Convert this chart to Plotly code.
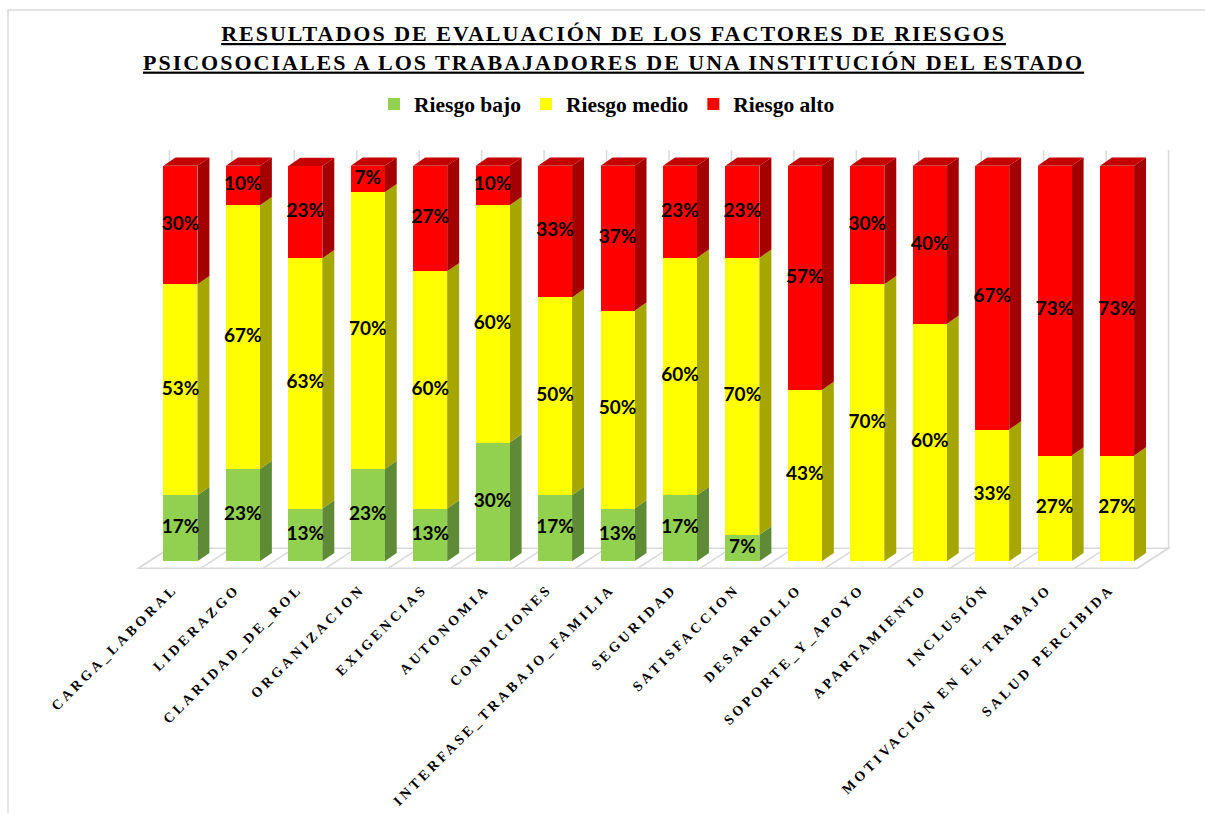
import plotly.graph_objects as go

# ---------------- data ----------------
categorias = ["CARGA_LABORAL", "LIDERAZGO", "CLARIDAD_DE_ROL", "ORGANIZACION",
              "EXIGENCIAS", "AUTONOMIA", "CONDICIONES", "INTERFASE_TRABAJO_FAMILIA",
              "SEGURIDAD", "SATISFACCION", "DESARROLLO", "SOPORTE_Y_APOYO",
              "APARTAMIENTO", "INCLUSIÓN", "MOTIVACIÓN EN EL TRABAJO", "SALUD PERCIBIDA"]
riesgo_bajo = [16.7, 23.3, 13.3, 23.3, 13.3, 30.0, 16.7, 13.3, 16.7, 6.7, 0, 0, 0, 0, 0, 0]
riesgo_medio = [53.3, 66.7, 63.3, 70.0, 60.0, 60.0, 50.0, 50.0, 60.0, 70.0, 43.3, 70.0, 60.0, 33.3, 26.7, 26.7]
riesgo_alto = [30.0, 10.0, 23.3, 6.7, 26.7, 10.0, 33.3, 36.7, 23.3, 23.3, 56.7, 30.0, 40.0, 66.7, 73.3, 73.3]
series_names = ["Riesgo bajo", "Riesgo medio", "Riesgo alto"]

titulo_1 = "RESULTADOS DE EVALUACIÓN DE LOS FACTORES DE RIESGOS"
titulo_2 = "PSICOSOCIALES A LOS TRABAJADORES DE UNA INSTITUCIÓN DEL ESTADO"

# ---------------- style ----------------
W, H = 1205, 813
ML, MR, MT, MB = 118, 13, 142, 236
XR = [-1, 16.2]
YR = [-4, 106]
BAR_W = 0.544
DX, DY = 0.192, 2.1          # 3D depth offset (data units)
front = ["#92D050", "#FFFF00", "#FF0000"]
side = ["#5F8A36", "#A6A600", "#A50000"]
top = ["#7AB03F", "#D4D400", "#C40000"]
GRID = "#D9D9D9"
SERIF = "Liberation Serif"

def px_to_paper_x(px):
    return (px - ML) / (W - ML - MR)

def px_to_paper_y(py):
    return (H - MB - py) / (H - MT - MB)

series = [riesgo_bajo, riesgo_medio, riesgo_alto]
n = len(categorias)
xs = list(range(n))

fig = go.Figure()
for vals, name, col in zip(series, series_names, front):
    fig.add_trace(go.Bar(x=xs, y=vals, name=name, width=BAR_W,
                         marker=dict(color=col, line=dict(width=0)),
                         hoverinfo="skip"))

# data labels
lx, ly, lt = [], [], []
for i in range(n):
    base = 0
    for vals in series:
        v = vals[i]
        if v > 0:
            lx.append(i)
            ly.append(base + v / 2)
            lt.append(f"{round(v)}%")
        base += v
fig.add_trace(go.Scatter(x=lx, y=ly, text=lt, mode="text", showlegend=False,
                         textposition="middle center", hoverinfo="skip",
                         textfont=dict(family="Lato", size=19, color="black", weight=700)))

shapes = []
# outer frame (only left and top edges fall inside the picture)
shapes.append(dict(type="rect", xref="paper", yref="paper",
                   x0=px_to_paper_x(8), x1=px_to_paper_x(1260),
                   y0=px_to_paper_y(870), y1=px_to_paper_y(10),
                   line=dict(color=GRID, width=1.5), fillcolor="rgba(0,0,0,0)", layer="below"))

# floor
FY0, FY1 = -1.77, 3.29
FX0, FX1 = -0.672, -0.176
shapes.append(dict(type="path", xref="x", yref="y", layer="below",
                   path=f"M{FX0},{FY0} L{FX0 + n},{FY0} L{FX1 + n},{FY1} L{FX1},{FY1} Z",
                   line=dict(color=GRID, width=1.5), fillcolor="white"))
for k in range(n + 1):
    shapes.append(dict(type="line", xref="x", yref="y", layer="below",
                       x0=FX0 + k, y0=FY0, x1=FX1 + k, y1=FY1,
                       line=dict(color=GRID, width=1.5)))
# back-wall gridlines
for k in range(n + 1):
    shapes.append(dict(type="line", xref="x", yref="y", layer="below",
                       x0=FX1 + k, y0=FY1, x1=FX1 + k, y1=103.9,
                       line=dict(color=GRID, width=1.5)))

# 3D side and top faces
for i in range(n):
    xr = i + BAR_W / 2
    xl = i - BAR_W / 2
    base = 0
    last = None
    for s, vals in enumerate(series):
        v = vals[i]
        if v <= 0:
            continue
        y0, y1 = base, base + v
        shapes.append(dict(type="path", xref="x", yref="y", layer="below",
                           path=f"M{xr},{y0} L{xr + DX},{y0 + DY} L{xr + DX},{y1 + DY} L{xr},{y1} Z",
                           fillcolor=side[s], line=dict(width=0)))
        base = y1
        last = s
    shapes.append(dict(type="path", xref="x", yref="y", layer="below",
                       path=f"M{xl},{base} L{xr},{base} L{xr + DX},{base + DY} L{xl + DX},{base + DY} Z",
                       fillcolor=top[last], line=dict(width=0)))

annotations = [
    dict(text=f'<span style="letter-spacing:2px">{titulo_1}</span><br>'
              f'<span style="letter-spacing:2px">{titulo_2}</span>',
         xref="paper", yref="paper",
         x=px_to_paper_x(613), y=px_to_paper_y(48), xanchor="center", yanchor="middle",
         showarrow=False, align="center",
         font=dict(family=SERIF, size=22, color="black", weight=700, lineposition="under")),
]

ticktext = [f'<span style="letter-spacing:3.4px">{c}</span>' for c in categorias]

fig.update_layout(
    width=W, height=H,
    barmode="stack",
    margin=dict(l=ML, r=MR, t=MT, b=MB, autoexpand=False),
    paper_bgcolor="white", plot_bgcolor="white",
    shapes=shapes, annotations=annotations,
    showlegend=True,
    legend=dict(orientation="h", x=px_to_paper_x(607), xanchor="center",
                y=px_to_paper_y(104), yanchor="middle", traceorder="normal",
                font=dict(family=SERIF, size=21.5, color="black", weight=700),
                bgcolor="rgba(0,0,0,0)"),
    xaxis=dict(range=XR, tickmode="array", tickvals=xs, ticktext=ticktext,
               tickangle=-45, showgrid=False, zeroline=False, showline=False,
               ticks="", ticklabelshift=-7,
               tickfont=dict(family=SERIF, size=14, color="black", weight=700),
               automargin=False, fixedrange=True),
    yaxis=dict(range=YR, showgrid=False, zeroline=False, showline=False,
               showticklabels=False, automargin=False, fixedrange=True),
)

fig.write_html("out.html")
